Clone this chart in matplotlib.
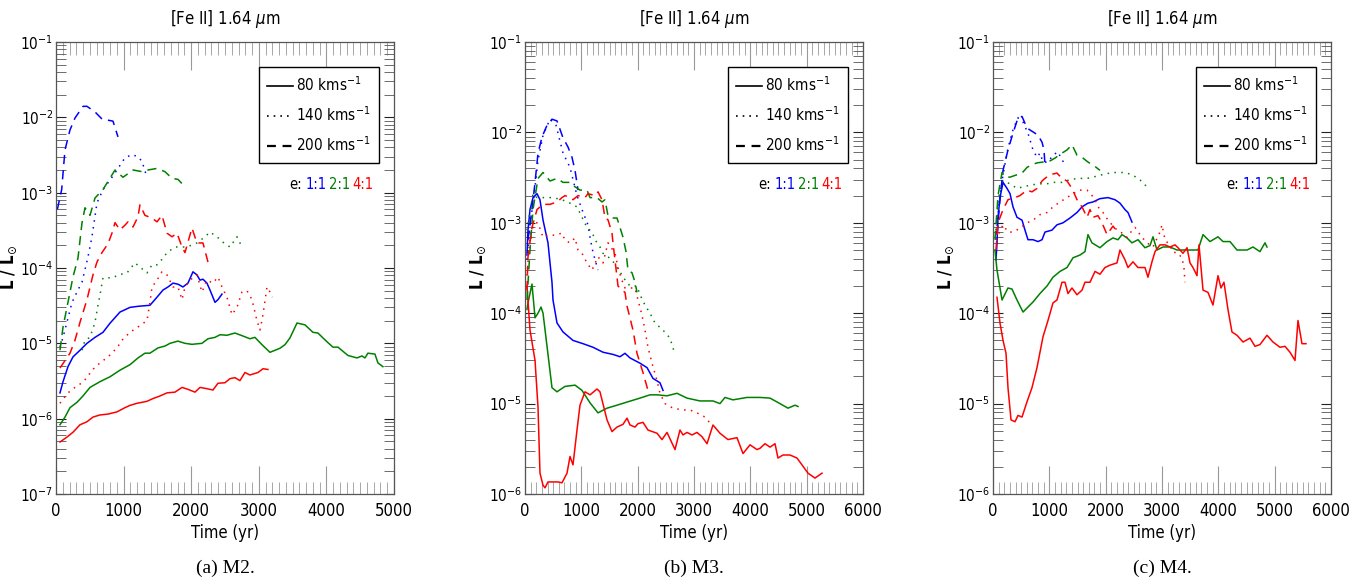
import matplotlib
matplotlib.use('Agg')
import matplotlib.pyplot as plt
from matplotlib import font_manager as fm
from matplotlib.lines import Line2D
from matplotlib.ticker import LogLocator, MultipleLocator, NullFormatter

# narrow sans like the original IDL plot, whatever is available
names = {f.name for f in fm.fontManager.ttflist}
if 'Liberation Sans Narrow' in names:
    fam, stretch = 'Liberation Sans Narrow', 'normal'
elif any(f.name == 'DejaVu Sans' and 'Condensed' in f.fname for f in fm.fontManager.ttflist):
    fam, stretch = 'DejaVu Sans', 'condensed'
else:
    fam, stretch = 'Liberation Sans', 'normal'

plt.rcParams['font.family'] = [fam, 'DejaVu Sans']
plt.rcParams['font.stretch'] = stretch
plt.rcParams['mathtext.fontset'] = 'custom'
plt.rcParams['mathtext.rm'] = fam + ':stretch=' + stretch
plt.rcParams['mathtext.it'] = fam + ':italic:stretch=' + stretch
plt.rcParams['mathtext.bf'] = fam + ':bold:stretch=' + stretch

# ---------------- M2 ----------------
a_80_11_t = [59, 104, 177, 251, 355, 458, 577, 695, 799, 946, 1094, 1213, 1390, 1494, 1583, 1657, 1731, 1804,
             1878, 1952, 2026, 2085, 2130, 2174, 2233, 2278, 2352, 2396, 2455]
a_80_11_L = [2.2e-6, 3.1e-6, 4.9e-6, 6.6e-6, 8.1e-6, 1.0e-5, 1.2e-5, 1.4e-5, 1.85e-5, 2.6e-5, 3.0e-5, 3.1e-5,
             3.2e-5, 4.1e-5, 5.1e-5, 5.6e-5, 6.3e-5, 6.1e-5, 5.6e-5, 6.3e-5, 8.9e-5, 8.1e-5, 6.9e-5, 7.1e-5,
             6.3e-5, 5.1e-5, 3.5e-5, 3.8e-5, 4.5e-5]
a_80_21_t = [59, 133, 207, 311, 399, 503, 651, 799, 946, 1094, 1213, 1316, 1390, 1509, 1612, 1686, 1804, 1908,
             2011, 2159, 2248, 2352, 2426, 2529, 2647, 2766, 2869, 2943, 3047, 3165, 3313, 3387, 3461, 3565,
             3683, 3801, 3875, 4008, 4097, 4171, 4319, 4452, 4526, 4570, 4614, 4718, 4762, 4836]
a_80_21_L = [8.3e-7, 1.05e-6, 1.4e-6, 1.65e-6, 2.0e-6, 2.6e-6, 3.1e-6, 3.6e-6, 4.4e-6, 5.2e-6, 6.4e-6, 7.4e-6,
             7.4e-6, 8.7e-6, 9.2e-6, 1.0e-5, 1.07e-5, 1.0e-5, 9.7e-6, 1.0e-5, 1.15e-5, 1.2e-5, 1.3e-5, 1.28e-5,
             1.37e-5, 1.25e-5, 1.15e-5, 1.2e-5, 9.6e-6, 7.6e-6, 8.6e-6, 9.6e-6, 1.18e-5, 1.86e-5, 1.76e-5,
             1.4e-5, 1.37e-5, 1.05e-5, 8.9e-6, 8.9e-6, 6.9e-6, 6.4e-6, 6.8e-6, 6.4e-6, 7.4e-6, 7.2e-6, 5.5e-6,
             4.9e-6]
a_80_41_t = [59, 163, 251, 355, 458, 547, 651, 769, 902, 1020, 1094, 1198, 1346, 1435, 1538, 1642, 1760, 1864,
             1952, 2056, 2130, 2233, 2322, 2396, 2500, 2574, 2647, 2721, 2795, 2869, 2988, 3062, 3135]
a_80_41_L = [4.9e-7, 5.7e-7, 6.6e-7, 8.3e-7, 9.1e-7, 1.05e-6, 1.12e-6, 1.15e-6, 1.23e-6, 1.4e-6, 1.5e-6, 1.6e-6,
             1.7e-6, 1.85e-6, 2.0e-6, 2.2e-6, 2.25e-6, 2.6e-6, 2.45e-6, 2.25e-6, 2.6e-6, 2.5e-6, 2.4e-6, 2.95e-6,
             3.0e-6, 3.4e-6, 3.5e-6, 3.2e-6, 4.1e-6, 3.8e-6, 4.1e-6, 4.6e-6, 4.5e-6]
a_140_11_t = [59, 104, 237, 325, 385, 473, 532, 606, 695, 828, 902, 1020, 1124, 1213, 1272, 1346]
a_140_11_L = [8.9e-6, 1.2e-5, 3.5e-5, 5.1e-5, 6.5e-5, 1.4e-4, 2.6e-4, 7.3e-4, 1.1e-3, 1.6e-3, 2.0e-3, 2.9e-3,
              3.2e-3, 3.0e-3, 2.6e-3, 1.6e-3]
a_140_21_t = [385, 429, 503, 577, 621, 651, 695, 843, 917, 1050, 1168, 1242, 1346, 1420, 1494, 1583, 1642, 1760,
              1937, 2085, 2204, 2278, 2381, 2470, 2574, 2677, 2751]
a_140_21_L = [8.1e-6, 1.1e-5, 1.2e-5, 1.9e-5, 3.2e-5, 4.4e-5, 7.4e-5, 7.4e-5, 8.1e-5, 8.6e-5, 1.17e-4, 1.03e-4,
              8.6e-5, 1.1e-4, 1.1e-4, 1.35e-4, 1.6e-4, 1.9e-4, 1.9e-4, 2.15e-4, 2.6e-4, 3.0e-4, 2.6e-4, 2.2e-4,
              1.9e-4, 2.6e-4, 1.9e-4]
a_140_41_t = [59, 177, 281, 385, 458, 532, 651, 769, 902, 976, 1094, 1213, 1346, 1390, 1420, 1494, 1568, 1642,
              1731, 1804, 1864, 1908, 1982, 2085, 2159, 2233, 2322, 2396, 2455, 2529, 2603, 2677, 2751, 2825,
              2899, 2973, 3017, 3062, 3121, 3165, 3200]
a_140_41_L = [1.6e-6, 2.2e-6, 2.6e-6, 3.0e-6, 3.5e-6, 4.4e-6, 5.5e-6, 6.6e-6, 8.7e-6, 1.1e-5, 1.4e-5, 1.65e-5,
              2.0e-5, 3.5e-5, 5.6e-5, 6.9e-5, 8.9e-5, 8.1e-5, 5.6e-5, 5.6e-5, 3.8e-5, 5.6e-5, 6.9e-5, 8.1e-5,
              4.8e-5, 6.9e-5, 6.3e-5, 7.6e-5, 5.6e-5, 4.1e-5, 2.4e-5, 3.0e-5, 4.8e-5, 5.0e-5, 3.8e-5, 2.0e-5,
              1.5e-5, 2.4e-5, 5.6e-5, 4.8e-5, 4.1e-5]
a_200_11_t = [20, 84, 133, 207, 281, 400, 458, 577, 680, 843, 917]
a_200_11_L = [6.0e-4, 1.1e-3, 3.7e-3, 6.8e-3, 9.8e-3, 1.4e-2, 1.4e-2, 1.18e-2, 9.5e-3, 8.9e-3, 5.5e-3]
a_200_21_t = [59, 104, 177, 251, 325, 385, 429, 503, 577, 695, 873, 991, 1139, 1272, 1361, 1494, 1612, 1716,
              1804, 1908]
a_200_21_L = [8.1e-6, 1.65e-5, 3.5e-5, 7.6e-5, 1.35e-4, 4.0e-4, 6.3e-4, 5.0e-4, 8.5e-4, 1.1e-3, 2.0e-3, 1.6e-3,
              2.0e-3, 1.9e-3, 2.0e-3, 2.1e-3, 1.9e-3, 1.55e-3, 1.5e-3, 1.2e-3]
a_200_41_t = [59, 207, 281, 355, 458, 547, 606, 680, 769, 828, 873, 946, 1020, 1065, 1139, 1213, 1242, 1316,
              1420, 1494, 1568, 1642, 1716, 1790, 1864, 1908, 2011, 2085, 2174, 2248]
a_200_41_L = [4.7e-6, 7.4e-6, 1.1e-5, 1.9e-5, 3.8e-5, 8.1e-5, 1.2e-4, 1.6e-4, 2.1e-4, 2.9e-4, 4.0e-4, 3.2e-4,
              3.7e-4, 4.1e-4, 3.5e-4, 4.8e-4, 6.9e-4, 5.0e-4, 4.6e-4, 4.1e-4, 5.0e-4, 2.9e-4, 2.6e-4, 2.9e-4,
              1.9e-4, 1.6e-4, 3.4e-4, 2.15e-4, 2.15e-4, 1.2e-4]

# ---------------- M3 ----------------
b_80_11_t = [35, 53, 89, 142, 213, 266, 320, 408, 479, 497, 568, 675, 852, 1030, 1207, 1385, 1562, 1686, 1775,
             1864, 2041, 2166, 2272, 2396, 2450]
b_80_11_L = [4.4e-4, 8.3e-4, 1.4e-3, 1.9e-3, 2.1e-3, 1.8e-3, 1.07e-3, 6.0e-4, 2.2e-4, 1.4e-4, 7.8e-5, 6.2e-5,
             5.0e-5, 4.6e-5, 4.2e-5, 3.7e-5, 3.5e-5, 3.3e-5, 3.6e-5, 3.2e-5, 2.8e-5, 2.5e-5, 1.9e-5, 1.7e-5,
             1.4e-5]
b_80_21_t = [35, 53, 124, 178, 231, 284, 320, 391, 479, 568, 710, 888, 1012, 1154, 1296, 1456, 1633, 1811, 2041,
             2219, 2343, 2521, 2698, 2876, 3106, 3337, 3461, 3550, 3692, 3941, 4171, 4349, 4526, 4668, 4793,
             4846]
b_80_21_L = [1.1e-4, 1.3e-4, 2.1e-4, 8.9e-5, 1.0e-4, 1.17e-4, 1.0e-4, 4.3e-5, 1.5e-5, 1.35e-5, 1.55e-5, 1.6e-5,
             1.4e-5, 1.02e-5, 7.9e-6, 8.9e-6, 9.6e-6, 1.04e-5, 1.15e-5, 1.25e-5, 1.25e-5, 1.22e-5, 1.3e-5,
             1.15e-5, 1.07e-5, 1.07e-5, 1.0e-5, 1.17e-5, 1.1e-5, 1.17e-5, 1.17e-5, 1.15e-5, 1.0e-5, 8.9e-6,
             9.6e-6, 9.3e-6]
b_80_41_t = [35, 89, 178, 231, 266, 320, 355, 408, 586, 657, 746, 799, 852, 923, 976, 1065, 1154, 1278, 1331,
             1456, 1544, 1633, 1740, 1811, 1864, 1953, 2006, 2095, 2183, 2343, 2432, 2521, 2663, 2751, 2805,
             2876, 2964, 3053, 3142, 3231, 3337, 3461, 3603, 3763, 3870, 3994, 4118, 4171, 4260, 4349, 4438,
             4491, 4580, 4704, 4828, 4917, 5023, 5148, 5272]
b_80_41_L = [2.0e-4, 6.5e-5, 3.0e-5, 9.1e-6, 1.7e-6, 1.25e-6, 1.17e-6, 1.36e-6, 1.36e-6, 1.33e-6, 1.7e-6, 2.6e-6,
             2.1e-6, 5.1e-6, 9.6e-6, 1.35e-5, 1.25e-5, 1.45e-5, 1.35e-5, 6.6e-6, 4.9e-6, 5.5e-6, 5.9e-6, 6.9e-6,
             5.8e-6, 5.5e-6, 6.0e-6, 6.2e-6, 5.1e-6, 4.7e-6, 4.0e-6, 4.8e-6, 3.1e-6, 5.1e-6, 4.5e-6, 4.8e-6,
             4.5e-6, 4.8e-6, 4.3e-6, 3.6e-6, 5.8e-6, 4.7e-6, 4.0e-6, 4.2e-6, 2.8e-6, 3.5e-6, 3.1e-6, 3.2e-6,
             3.6e-6, 3.3e-6, 3.6e-6, 2.5e-6, 2.7e-6, 2.7e-6, 2.5e-6, 2.1e-6, 1.7e-6, 1.5e-6, 1.7e-6]
b_140_11_t = [35, 89, 160, 231, 320, 444, 550, 675, 799, 923, 1012, 1118, 1154, 1207, 1296]
b_140_11_L = [3.9e-4, 9.5e-4, 2.0e-3, 4.9e-3, 9.3e-3, 1.4e-2, 1.2e-2, 5.9e-3, 4.1e-3, 2.0e-3, 1.4e-3, 9.5e-4,
              6.9e-4, 4.7e-4, 3.0e-4]
b_140_21_t = [35, 142, 213, 320, 497, 657, 799, 923, 1012, 1100, 1189, 1243, 1331, 1385, 1473, 1544, 1633, 1686,
              1740, 1864, 1988, 2041, 2130, 2219, 2308, 2450, 2574, 2663]
b_140_21_L = [8.3e-4, 2.1e-3, 1.9e-3, 1.9e-3, 1.9e-3, 1.8e-3, 1.65e-3, 1.5e-3, 1.15e-3, 8.9e-4, 7.9e-4, 6.5e-4,
              5.4e-4, 4.6e-4, 4.2e-4, 3.9e-4, 3.2e-4, 2.9e-4, 2.5e-4, 2.0e-4, 2.0e-4, 1.6e-4, 1.23e-4, 1.0e-4,
              7.8e-5, 6.5e-5, 5.3e-5, 3.5e-5]
b_140_41_t = [35, 89, 178, 231, 320, 408, 533, 657, 710, 799, 888, 941, 1012, 1100, 1189, 1296, 1385, 1473,
              1598, 1651, 1722, 1775, 1953, 2006, 2077, 2130, 2183, 2254, 2343, 2396, 2485, 2627, 2805, 2929,
              3053, 3195, 3284]
b_140_41_L = [2.6e-4, 7.4e-4, 1.0e-3, 1.0e-3, 6.9e-4, 7.3e-4, 7.3e-4, 7.7e-4, 6.4e-4, 6.0e-4, 6.8e-4, 5.0e-4,
              4.6e-4, 3.6e-4, 3.0e-4, 4.2e-4, 3.6e-4, 6.0e-4, 4.6e-4, 3.2e-4, 2.3e-4, 1.9e-4, 1.9e-4, 1.4e-4,
              9.5e-5, 6.5e-5, 4.2e-5, 2.8e-5, 1.8e-5, 1.3e-5, 1.0e-5, 8.9e-6, 8.5e-6, 8.5e-6, 7.9e-6, 7.1e-6,
              6.1e-6]
b_200_11_t = [53, 124, 178, 231, 302, 391, 479, 568, 675, 763, 834, 888, 941]
b_200_11_L = [6.5e-4, 1.4e-3, 2.8e-3, 5.9e-3, 8.9e-3, 1.2e-2, 1.4e-2, 1.34e-2, 8.7e-3, 6.9e-3, 5.3e-3, 3.8e-3,
              2.3e-3]
b_200_21_t = [35, 89, 142, 231, 320, 444, 568, 675, 799, 888, 976, 1100, 1154, 1278, 1367, 1420, 1473, 1544,
              1633, 1686, 1740, 1793, 1828, 1899, 1953, 1988]
b_200_21_L = [1.4e-4, 5.0e-4, 1.4e-3, 3.1e-3, 3.6e-3, 2.9e-3, 3.1e-3, 2.8e-3, 2.8e-3, 2.5e-3, 2.3e-3, 2.3e-3,
              1.9e-3, 1.9e-3, 1.7e-3, 1.8e-3, 1.2e-3, 1.13e-3, 1.13e-3, 8.9e-4, 6.9e-4, 4.8e-4, 3.0e-4, 2.8e-4,
              2.2e-4, 1.7e-4]
b_200_41_t = [35, 53, 124, 213, 320, 444, 568, 657, 710, 799, 852, 941, 1065, 1118, 1243, 1296, 1367, 1420,
              1473, 1544, 1562, 1651, 1722, 1775, 1811, 1917, 1988, 2095, 2183]
b_200_41_L = [1.8e-4, 4.2e-4, 8.9e-4, 1.4e-3, 1.6e-3, 1.6e-3, 1.7e-3, 1.9e-3, 2.0e-3, 1.9e-3, 1.8e-3, 2.0e-3,
              1.9e-3, 2.1e-3, 2.0e-3, 2.2e-3, 1.8e-3, 1.13e-3, 1.08e-3, 7.7e-4, 6.0e-4, 2.0e-4, 1.8e-4, 1.7e-4,
              1.2e-4, 6.5e-5, 3.6e-5, 2.2e-5, 1.4e-5]

# ---------------- M4 ----------------
c_80_11_t = [53, 71, 89, 124, 178, 249, 302, 355, 426, 515, 568, 621, 710, 799, 870, 923, 1047, 1136, 1243,
             1367, 1491, 1580, 1686, 1775, 1899, 2041, 2166, 2254, 2343, 2396, 2467]
c_80_11_L = [3.9e-4, 6.0e-4, 1.15e-3, 1.9e-3, 2.8e-3, 2.4e-3, 2.1e-3, 1.5e-3, 1.15e-3, 1.07e-3, 8.3e-4, 6.5e-4,
             6.5e-4, 6.2e-4, 6.5e-4, 7.9e-4, 8.3e-4, 9.5e-4, 1.0e-3, 1.13e-3, 1.3e-3, 1.5e-3, 1.65e-3, 1.7e-3,
             1.85e-3, 1.9e-3, 1.8e-3, 1.65e-3, 1.4e-3, 1.3e-3, 1.02e-3]
c_80_21_t = [35, 71, 160, 266, 337, 426, 533, 621, 710, 834, 959, 1065, 1189, 1314, 1420, 1544, 1633, 1686,
             1757, 1899, 2024, 2130, 2219, 2290, 2379, 2467, 2574, 2698, 2787, 2840, 2911, 3018, 3142, 3266,
             3444, 3639, 3728, 3852, 3994, 4083, 4207, 4331, 4509, 4615, 4739, 4828, 4864]
c_80_21_L = [5.0e-4, 3.0e-4, 1.4e-4, 1.9e-4, 1.85e-4, 1.4e-4, 1.03e-4, 1.17e-4, 1.33e-4, 1.65e-4, 2.0e-4, 2.5e-4,
             2.9e-4, 3.2e-4, 4.1e-4, 4.4e-4, 4.8e-4, 7.4e-4, 6.0e-4, 5.3e-4, 6.2e-4, 6.8e-4, 6.5e-4, 7.4e-4,
             6.8e-4, 6.0e-4, 6.5e-4, 5.3e-4, 5.6e-4, 7.0e-4, 5.0e-4, 5.4e-4, 5.4e-4, 5.0e-4, 5.0e-4, 5.0e-4,
             7.4e-4, 6.2e-4, 7.0e-4, 6.2e-4, 6.2e-4, 5.0e-4, 5.0e-4, 5.4e-4, 4.8e-4, 6.0e-4, 5.4e-4]
c_80_41_t = [71, 124, 178, 231, 266, 320, 391, 444, 515, 604, 692, 781, 888, 976, 1065, 1136, 1225, 1278, 1331,
             1402, 1491, 1580, 1633, 1722, 1811, 1899, 1988, 2077, 2201, 2254, 2343, 2396, 2485, 2574, 2698,
             2751, 2822, 2876, 2964, 3053, 3142, 3231, 3284, 3373, 3444, 3497, 3550, 3621, 3657, 3728, 3816,
             3905, 3994, 4047, 4100, 4171, 4242, 4331, 4438, 4562, 4651, 4739, 4864, 4970, 5094, 5183, 5272,
             5361, 5414, 5485, 5556]
c_80_41_L = [1.5e-4, 7.8e-5, 5.0e-5, 3.6e-5, 1.5e-5, 6.6e-6, 6.3e-6, 7.4e-6, 7.1e-6, 1.05e-5, 1.5e-5, 2.5e-5,
             5.5e-5, 8.3e-5, 1.3e-4, 1.4e-4, 2.2e-4, 2.2e-4, 1.65e-4, 1.9e-4, 1.6e-4, 1.8e-4, 2.2e-4, 2.2e-4,
             2.9e-4, 2.7e-4, 3.2e-4, 3.4e-4, 3.6e-4, 5.0e-4, 3.9e-4, 3.2e-4, 3.7e-4, 3.2e-4, 3.2e-4, 2.5e-4,
             3.7e-4, 4.8e-4, 5.7e-4, 5.7e-4, 5.4e-4, 5.7e-4, 5.3e-4, 4.6e-4, 5.3e-4, 3.6e-4, 3.2e-4, 2.6e-4,
             5.7e-4, 1.8e-4, 1.7e-4, 1.23e-4, 2.6e-4, 1.9e-4, 2.2e-4, 1.1e-4, 6.2e-5, 5.7e-5, 4.8e-5, 5.3e-5,
             4.3e-5, 4.5e-5, 5.7e-5, 4.8e-5, 4.2e-5, 4.3e-5, 3.7e-5, 3.0e-5, 8.3e-5, 4.6e-5, 4.6e-5]
c_140_11_t = [53, 106, 178, 266, 355, 444, 533, 621, 710, 781, 834, 888, 976, 1065, 1154, 1225, 1278]
c_140_11_L = [6.5e-4, 1.6e-3, 3.4e-3, 6.7e-3, 1.07e-2, 1.45e-2, 1.3e-2, 9.8e-3, 6.4e-3, 5.3e-3, 5.9e-3, 4.7e-3,
              4.7e-3, 5.6e-3, 6.1e-3, 4.9e-3, 4.6e-3]
c_140_21_t = [53, 106, 178, 302, 426, 533, 657, 799, 959, 1065, 1225, 1367, 1509, 1669, 1775, 1935, 2024, 2130,
              2219, 2343, 2467, 2574, 2663, 2751]
c_140_21_L = [8.3e-4, 2.0e-3, 2.9e-3, 2.7e-3, 2.4e-3, 2.5e-3, 2.6e-3, 2.7e-3, 2.7e-3, 2.8e-3, 2.8e-3, 3.0e-3,
              3.1e-3, 3.1e-3, 3.2e-3, 3.4e-3, 3.5e-3, 3.6e-3, 3.6e-3, 3.6e-3, 3.4e-3, 3.1e-3, 2.8e-3, 2.4e-3]
c_140_41_t = [53, 178, 266, 355, 479, 604, 710, 834, 959, 1065, 1189, 1314, 1420, 1544, 1669, 1758, 1811, 1864,
              1953, 2041, 2166, 2290, 2379, 2432, 2521, 2645, 2734, 2840, 2964, 3000, 3053, 3142, 3195, 3266,
              3355, 3390, 3408]
c_140_41_L = [6.5e-4, 9.5e-4, 7.9e-4, 7.9e-4, 8.7e-4, 1.0e-3, 1.07e-3, 1.23e-3, 1.3e-3, 1.5e-3, 1.7e-3, 1.9e-3,
              2.1e-3, 2.3e-3, 2.3e-3, 2.0e-3, 1.8e-3, 1.5e-3, 1.3e-3, 1.07e-3, 8.7e-4, 7.7e-4, 6.9e-4, 7.7e-4,
              8.9e-4, 6.9e-4, 6.0e-4, 5.4e-4, 7.9e-4, 9.5e-4, 6.5e-4, 5.6e-4, 4.7e-4, 4.7e-4, 4.1e-4, 3.2e-4,
              2.2e-4]
c_200_11_t = [71, 124, 178, 266, 355, 444, 515, 568, 621, 746, 799, 870, 905, 923]
c_200_11_L = [7.4e-4, 1.8e-3, 3.8e-3, 6.4e-3, 9.8e-3, 1.45e-2, 1.5e-2, 1.26e-2, 1.1e-2, 9.8e-3, 9.3e-3, 7.8e-3,
              6.4e-3, 4.4e-3]
c_200_21_t = [35, 89, 160, 213, 302, 426, 515, 604, 692, 781, 888, 976, 1101, 1225, 1314, 1402, 1491, 1580,
              1686, 1811, 1899]
c_200_21_L = [6.5e-4, 2.0e-3, 3.6e-3, 3.2e-3, 3.2e-3, 3.4e-3, 3.55e-3, 4.1e-3, 4.4e-3, 4.6e-3, 4.7e-3, 4.7e-3,
              5.2e-3, 5.9e-3, 6.4e-3, 7.3e-3, 5.6e-3, 5.3e-3, 4.7e-3, 4.2e-3, 3.8e-3]
c_200_41_t = [53, 89, 178, 266, 391, 479, 604, 692, 781, 870, 923, 1012, 1136, 1225, 1314, 1402, 1491, 1580,
              1669, 1722, 1775, 1864, 1935, 2024, 2130, 2219]
c_200_41_L = [5.0e-4, 1.0e-3, 1.4e-3, 1.8e-3, 1.9e-3, 2.0e-3, 2.3e-3, 2.2e-3, 2.4e-3, 2.9e-3, 3.1e-3, 3.4e-3,
              3.55e-3, 3.1e-3, 2.9e-3, 2.4e-3, 1.8e-3, 1.5e-3, 1.15e-3, 1.4e-3, 1.15e-3, 1.2e-3, 1.0e-3, 7.4e-4,
              9.2e-4, 7.7e-4]

panels = [
    ('(a) M2.', 5000, 1e-7, [
        (a_80_11_t, a_80_11_L, 'blue', '-'), (a_80_21_t, a_80_21_L, 'green', '-'), (a_80_41_t, a_80_41_L, 'red', '-'),
        (a_140_11_t, a_140_11_L, 'blue', ':'), (a_140_21_t, a_140_21_L, 'green', ':'), (a_140_41_t, a_140_41_L, 'red', ':'),
        (a_200_11_t, a_200_11_L, 'blue', '--'), (a_200_21_t, a_200_21_L, 'green', '--'), (a_200_41_t, a_200_41_L, 'red', '--')]),
    ('(b) M3.', 6000, 1e-6, [
        (b_80_11_t, b_80_11_L, 'blue', '-'), (b_80_21_t, b_80_21_L, 'green', '-'), (b_80_41_t, b_80_41_L, 'red', '-'),
        (b_140_11_t, b_140_11_L, 'blue', ':'), (b_140_21_t, b_140_21_L, 'green', ':'), (b_140_41_t, b_140_41_L, 'red', ':'),
        (b_200_11_t, b_200_11_L, 'blue', '--'), (b_200_21_t, b_200_21_L, 'green', '--'), (b_200_41_t, b_200_41_L, 'red', '--')]),
    ('(c) M4.', 6000, 1e-6, [
        (c_80_11_t, c_80_11_L, 'blue', '-'), (c_80_21_t, c_80_21_L, 'green', '-'), (c_80_41_t, c_80_41_L, 'red', '-'),
        (c_140_11_t, c_140_11_L, 'blue', ':'), (c_140_21_t, c_140_21_L, 'green', ':'), (c_140_41_t, c_140_41_L, 'red', ':'),
        (c_200_11_t, c_200_11_L, 'blue', '--'), (c_200_21_t, c_200_21_L, 'green', '--'), (c_200_41_t, c_200_41_L, 'red', '--')]),
]

colors = {'blue': '#0000ff', 'green': '#008000', 'red': '#ff0000'}
styles = {'-': '-', ':': (0, (1, 3.5)), '--': (0, (6, 4))}

fig = plt.figure(figsize=(13.7, 5.86), dpi=100)
lefts = [56, 525, 993]

for left, (cap, xmax, ymin, series) in zip(lefts, panels):
    ax = fig.add_axes([left / 1370, (586 - 494) / 586, 338 / 1370, 452 / 586])
    for t, L, c, ls in series:
        ax.plot(t, L, color=colors[c], linestyle=styles[ls], linewidth=1.1)
    ax.set_yscale('log')
    ax.set_xlim(0, xmax)
    ax.set_ylim(ymin, 1e-1)
    ax.xaxis.set_major_locator(MultipleLocator(1000))
    ax.xaxis.set_minor_locator(MultipleLocator(100))
    ax.yaxis.set_major_locator(LogLocator(base=10, numticks=10))
    ax.yaxis.set_minor_locator(LogLocator(base=10, subs=range(2, 10), numticks=10))
    ax.yaxis.set_minor_formatter(NullFormatter())
    ax.tick_params(axis='x', which='major', direction='in', length=20, color='#999999', top=True,
                   labelsize=12, pad=6)
    ax.tick_params(axis='x', which='minor', direction='in', length=9, color='#999999', top=True)
    ax.tick_params(axis='y', which='major', direction='in', length=7, color='#222222', right=True,
                   labelsize=11, pad=2)
    ax.tick_params(axis='y', which='minor', direction='in', length=7, color='#555555', right=True)
    for sp in ax.spines.values():
        sp.set_color('#555555')
        sp.set_linewidth(0.9)

    ax.set_title('[Fe II] 1.64 $\\mu$m', fontsize=12, pad=13)
    ax.set_xlabel('Time (yr)', fontsize=12, labelpad=3)
    ax.set_ylabel('L / L$_{\\odot}$', fontsize=12, fontweight='bold')
    ax.yaxis.set_label_coords(-0.11, 0.5)

    handles = [Line2D([], [], color='k', linestyle='-', linewidth=1.2),
               Line2D([], [], color='k', linestyle=(0, (1, 3)), linewidth=1.2),
               Line2D([], [], color='k', linestyle=(0, (4, 3)), linewidth=1.6)]
    leg = ax.legend(handles, ['80 kms$^{-1}$', '140 kms$^{-1}$', '200 kms$^{-1}$'],
                    loc='upper right', bbox_to_anchor=(0.956, 0.945), fontsize=11,
                    frameon=True, fancybox=False, framealpha=1, borderaxespad=0,
                    handlelength=1.7, handletextpad=0.2, labelspacing=0.75, borderpad=0.55)
    leg.get_frame().set_edgecolor('black')
    leg.get_frame().set_linewidth(1.0)

    # "e: 1:1 2:1 4:1", built from the right edge so it stays inside the frame
    t3 = ax.text(0.94, 0.675, '4:1', transform=ax.transAxes, fontsize=10.5, color=colors['red'],
                 ha='right')
    t2 = ax.annotate('2:1', xy=(0, 0), xycoords=t3, xytext=(-1.5, 0), textcoords='offset points',
                     fontsize=10.5, color=colors['green'], ha='right', va='bottom')
    t1 = ax.annotate('1:1', xy=(0, 0), xycoords=t2, xytext=(-1.5, 0), textcoords='offset points',
                     fontsize=10.5, color=colors['blue'], ha='right', va='bottom')
    ax.annotate('e:', xy=(0, 0), xycoords=t1, xytext=(-3, 0), textcoords='offset points',
                fontsize=10.5, color='black', ha='right', va='bottom')

    fig.text((left + 169) / 1370, 1 - 568 / 586, cap, ha='center', va='center', fontsize=14,
             family=['Liberation Serif', 'DejaVu Serif'])

fig.savefig('out.png', dpi=100)
